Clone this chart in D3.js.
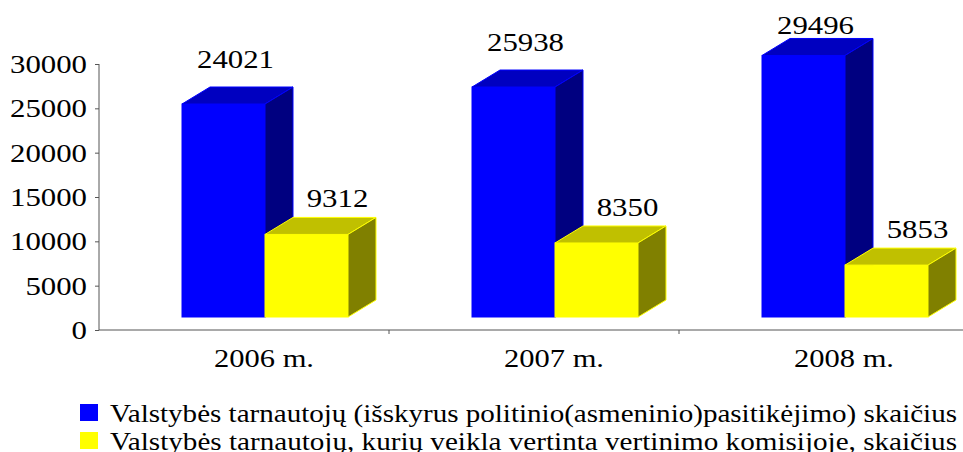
<!DOCTYPE html>
<html>
<head>
<meta charset="utf-8">
<script src="https://cdn.jsdelivr.net/npm/d3@7"></script>
<style>
  body { margin: 0; background: #fff; }
  svg text { font-family: "Liberation Serif", Tinos, "Times New Roman", Times, serif !important; fill: #000; }
</style>
</head>
<body>
<svg width="963" height="452"></svg>
<script>
var years = ["2006 m.", "2007 m.", "2008 m."];
var seriesNames = [
    "Valstybės tarnautojų (išskyrus politinio(asmeninio)pasitikėjimo) skaičius",
    "Valstybės tarnautojų, kurių veikla vertinta vertinimo komisijoje, skaičius"
];
var totalServants = [24021, 25938, 29496];
var evaluatedServants = [9312, 8350, 5853];
var yTicks = [0, 5000, 10000, 15000, 20000, 25000, 30000];

var colors = [
    { front: "#0000ff", top: "#0000c0", side: "#000080" },
    { front: "#ffff00", top: "#c0c000", side: "#808000" }
];

var serif = "'Liberation Serif', Tinos, 'Times New Roman', serif";

var svg = d3.select("svg").attr("font-family", serif);

var y = d3.scaleLinear().domain([0, 30000]).range([330, 64]);
var x = d3.scaleBand().domain(years).range([99, 969]);
var xs = d3.scaleBand().domain([0, 1]).range([-62, 104]);

var depthX = 28, depthY = 17, floor = 13;

// axes
var yAxis = svg.append("g")
    .attr("transform", "translate(99,0)")
    .call(d3.axisLeft(y).tickValues(yTicks).tickSize(4).tickPadding(8).tickFormat(d3.format("d")));
yAxis.attr("font-family", serif);
yAxis.select(".domain").attr("stroke", "#555").attr("d", "M0,64V330");
yAxis.selectAll(".tick line").attr("stroke", "#555");
yAxis.selectAll("text")
    .attr("font-size", 25)
    .attr("dy", "0.34em")
    .attr("textLength", function(d) { return String(d).length * 15.4; })
    .attr("lengthAdjust", "spacingAndGlyphs");

svg.append("line")
    .attr("x1", 99).attr("x2", 963)
    .attr("y1", y(0)).attr("y2", y(0))
    .attr("stroke", "#555");

svg.selectAll(".xtick")
    .data(years.slice(1))
    .enter().append("line")
    .attr("x1", function(d) { return x(d); })
    .attr("x2", function(d) { return x(d); })
    .attr("y1", y(0)).attr("y2", y(0) + 4)
    .attr("stroke", "#555");

svg.selectAll(".xlabel")
    .data(years)
    .enter().append("text")
    .attr("x", function(d) { return x(d) + x.bandwidth() / 2 + 20; })
    .attr("y", 367)
    .attr("text-anchor", "middle")
    .attr("font-size", 26)
    .attr("textLength", 100)
    .attr("lengthAdjust", "spacingAndGlyphs")
    .text(function(d) { return d; });

// 3D bars
var bars = [];
years.forEach(function(yr, i) {
    [totalServants[i], evaluatedServants[i]].forEach(function(v, s) {
        bars.push({ year: yr, s: s, value: v });
    });
});

function barGeom(d) {
    var x0 = x(d.year) + x.bandwidth() / 2 + xs(d.s);
    var w = xs.bandwidth();
    var top = y(d.value) - floor;
    var base = y(0) - floor;
    return { x0: x0, w: w, top: top, base: base };
}

var g = svg.append("g");
bars.forEach(function(d) {
    var b = barGeom(d), c = colors[d.s];
    var grp = g.append("g");
    grp.append("rect")
        .attr("x", b.x0).attr("y", b.top)
        .attr("width", b.w).attr("height", b.base - b.top)
        .attr("fill", c.front).attr("stroke", c.front).attr("stroke-width", 1);
    grp.append("polygon")
        .attr("points", [
            [b.x0, b.top], [b.x0 + depthX, b.top - depthY],
            [b.x0 + b.w + depthX, b.top - depthY], [b.x0 + b.w, b.top]
        ].join(" "))
        .attr("fill", c.top).attr("stroke", c.front).attr("stroke-width", 1);
    grp.append("polygon")
        .attr("points", [
            [b.x0 + b.w, b.top], [b.x0 + b.w + depthX, b.top - depthY],
            [b.x0 + b.w + depthX, b.base - depthY], [b.x0 + b.w, b.base]
        ].join(" "))
        .attr("fill", c.side).attr("stroke", c.front).attr("stroke-width", 1);
});

// value labels
svg.selectAll(".vlabel")
    .data(bars)
    .enter().append("text")
    .attr("x", function(d) {
        var b = barGeom(d);
        return b.x0 + b.w / 2 + (d.s === 0 ? 12 : 31);
    })
    .attr("y", function(d) {
        var b = barGeom(d);
        return d.s === 0 ? Math.max(34, b.top - depthY - 19) : b.top - depthY - 10;
    })
    .attr("text-anchor", "middle")
    .attr("font-size", 25)
    .attr("textLength", function(d) { return String(d.value).length * 15.4; })
    .attr("lengthAdjust", "spacingAndGlyphs")
    .text(function(d) { return d.value; });

// legend
var legend = svg.selectAll(".legend")
    .data(seriesNames)
    .enter().append("g")
    .attr("transform", function(d, i) { return "translate(80," + (404 + i * 28) + ")"; });

legend.append("rect")
    .attr("width", 18).attr("height", 17)
    .attr("fill", function(d, i) { return colors[i].front; });

legend.append("text")
    .attr("x", 30).attr("y", 18)
    .attr("font-size", 26)
    .attr("textLength", 847)
    .attr("lengthAdjust", "spacingAndGlyphs")
    .text(function(d) { return d; });
</script>
</body>
</html>
